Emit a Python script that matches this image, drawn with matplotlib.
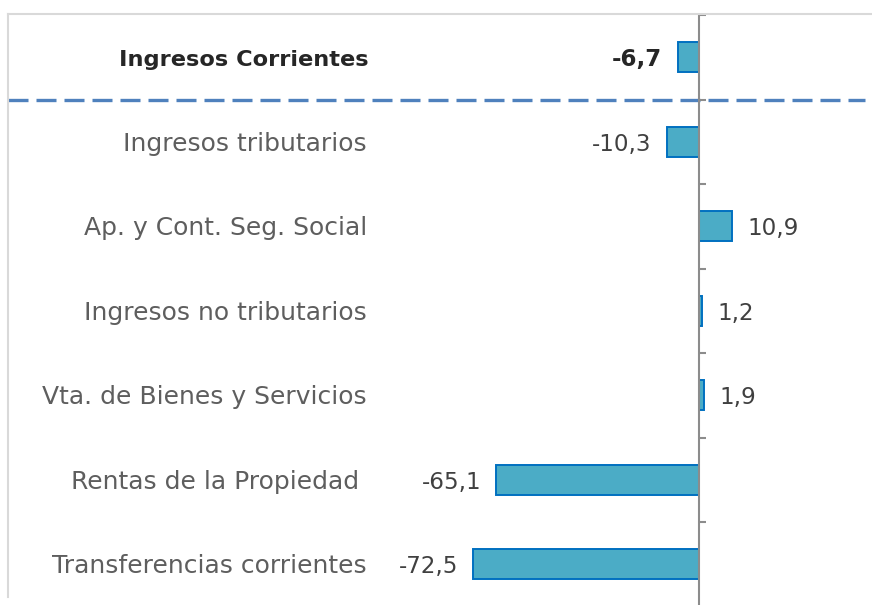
import numpy as np
import matplotlib.pyplot as plt
from matplotlib.lines import Line2D

categorias = ['Ingresos Corrientes', 'Ingresos tributarios', 'Ap. y Cont. Seg. Social',
              'Ingresos no tributarios', 'Vta. de Bienes y Servicios',
              'Rentas de la Propiedad ', 'Transferencias corrientes']
valores = [-6.7, -10.3, 10.9, 1.2, 1.9, -65.1, -72.5]
etiquetas = ['-6,7', '-10,3', '10,9', '1,2', '1,9', '-65,1', '-72,5']

plt.rcParams['font.family'] = ['DejaVu Sans']

fig = plt.figure(figsize=(8.72, 6.05), dpi=100)
# el eje vertical queda en x=698 px, escala ~3.106 px por unidad
escala = 3.106
x0 = 698.5
ax = fig.add_axes([0, 1 - 606.5 / 605, 1, (606.5 - 15) / 605])
ax.set_xlim(-x0 / escala, (872 - x0) / escala)
ax.set_ylim(6.5, -0.5)

y = np.arange(len(valores))
ax.barh(y, valores, height=0.355, color='#4BACC6', edgecolor='#0070C0', linewidth=1.4, zorder=2)

for s in ['top', 'right', 'bottom']:
    ax.spines[s].set_visible(False)
ax.spines['left'].set_position(('data', 0))
ax.spines['left'].set_color('#8C8C8C')
ax.spines['left'].set_linewidth(1.5)
ax.spines['left'].set_zorder(3)
ax.set_xticks([])
ax.set_yticks(np.arange(-0.5, 7, 1))
ax.set_yticklabels([])
ax.tick_params(axis='y', direction='in', length=5, width=1.5, color='#8C8C8C')

dy = 0.108  # linea base del texto por debajo del centro de la barra

# nombres de las categorias
xlab = (367 - x0) / escala
for i, c in enumerate(categorias):
    if i == 0:
        ax.text((369 - x0) / escala, i + dy, c, ha='right', va='baseline', fontsize=16.2,
                fontweight='bold', color='#262626')
    else:
        ax.text(xlab, i + dy, c, ha='right', va='baseline', fontsize=18, color='#5E5E5E')

# valores
for i, (v, t) in enumerate(zip(valores, etiquetas)):
    off = -11 if v < 0 else 11
    ha = 'right' if v < 0 else 'left'
    ax.annotate(t, (v, i + dy), xytext=(off, 0), textcoords='offset points', ha=ha, va='baseline',
                fontsize=16.6, color='#262626' if i == 0 else '#404040',
                fontweight='bold' if i == 0 else 'normal')

# linea punteada separadora
ax.plot([(8 - x0) / escala, (865 - x0) / escala], [0.5, 0.5], color='#4F81BD',
        linewidth=2.4, linestyle=(0, (6, 2.4)), zorder=1, clip_on=False)

# marco gris claro
fig.add_artist(Line2D([8 / 872, 1], [1 - 14 / 605, 1 - 14 / 605], color='#D9D9D9', linewidth=1.5))
fig.add_artist(Line2D([8 / 872, 8 / 872], [1 - 14 / 605, 1 - 597 / 605], color='#D9D9D9', linewidth=1.5))

fig.savefig('out.png', dpi=100)
